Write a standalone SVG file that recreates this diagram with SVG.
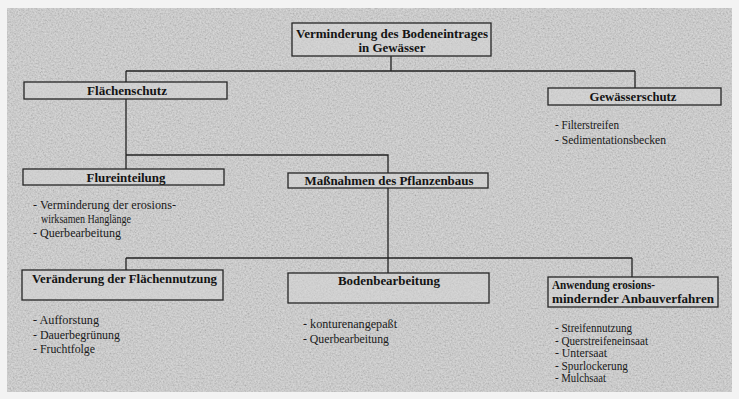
<svg xmlns="http://www.w3.org/2000/svg" width="739" height="399" viewBox="0 0 739 399">
<defs>
<filter id="noise" x="0" y="0" width="100%" height="100%">
<feTurbulence type="fractalNoise" baseFrequency="0.6" numOctaves="3" seed="7" result="n"/>
<feColorMatrix in="n" type="matrix" values="1 0 0 0 0  1 0 0 0 0  1 0 0 0 0  0 0 0 0 0.3"/>
</filter>
<style>
.box{fill:#d6d6d6;fill-opacity:0.5;stroke:#262626;stroke-width:1.3}
.ln{stroke:#222;stroke-width:1.3;fill:none}
.t{font-family:"Liberation Serif","Times New Roman",serif;font-weight:bold;font-size:13.5px;fill:#141414}
.b{font-family:"Liberation Serif","Times New Roman",serif;font-size:12px;fill:#1a1a1a}
.c{text-anchor:middle}
</style>
</defs>
<rect x="0" y="0" width="739" height="399" fill="#f3f3f3"/>
<rect x="7" y="8" width="725" height="384" fill="#d0d0d0"/>
<rect x="7" y="8" width="725" height="384" fill="#000" filter="url(#noise)"/>

<g id="connectors">
<path class="ln" d="M391,56 V71 M126,71 H635 M126,71 V82 M635,71 V88 M126,99 V169 M126,155 H388 V173 M388,188 V258 M126,258 H632 M126,258 V270 M388,258 V273 M632,258 V277"/>
</g>

<g id="root">
<rect class="box" x="292" y="23" width="199" height="33"/>
<text class="t c" x="392" y="38" textLength="192" lengthAdjust="spacingAndGlyphs">Verminderung des Bodeneintrages</text>
<text class="t c" x="392" y="52" textLength="67" lengthAdjust="spacingAndGlyphs">in Gewässer</text>
</g>

<g id="flaechenschutz">
<rect class="box" x="24" y="82" width="203" height="17"/>
<text class="t c" x="127" y="95" textLength="80" lengthAdjust="spacingAndGlyphs">Flächenschutz</text>
</g>

<g id="gewaesserschutz">
<rect class="box" x="548" y="88" width="173" height="17"/>
<text class="t c" x="633" y="101" textLength="87" lengthAdjust="spacingAndGlyphs">Gewässerschutz</text>
<text class="b" x="555" y="129" textLength="64" lengthAdjust="spacingAndGlyphs">- Filterstreifen</text>
<text class="b" x="555" y="144" textLength="111" lengthAdjust="spacingAndGlyphs">- Sedimentationsbecken</text>
</g>

<g id="flureinteilung">
<rect class="box" x="23" y="169" width="201" height="16"/>
<text class="t c" x="126" y="181.5" textLength="79" lengthAdjust="spacingAndGlyphs">Flureinteilung</text>
<text class="b" x="33" y="209" textLength="143" lengthAdjust="spacingAndGlyphs">- Verminderung der erosions-</text>
<text class="b" x="41" y="223" textLength="90" lengthAdjust="spacingAndGlyphs">wirksamen Hanglänge</text>
<text class="b" x="33" y="237" textLength="88" lengthAdjust="spacingAndGlyphs">- Querbearbeitung</text>
</g>

<g id="massnahmen">
<rect class="box" x="288" y="173" width="200" height="15"/>
<text class="t c" x="389" y="185" textLength="169" lengthAdjust="spacingAndGlyphs">Maßnahmen des Pflanzenbaus</text>
</g>

<g id="flaechennutzung">
<rect class="box" x="22" y="270" width="201" height="30"/>
<text class="t" x="32" y="283" textLength="185" lengthAdjust="spacingAndGlyphs">Veränderung der Flächennutzung</text>
<text class="b" x="33" y="324" textLength="66" lengthAdjust="spacingAndGlyphs">- Aufforstung</text>
<text class="b" x="33" y="339" textLength="87" lengthAdjust="spacingAndGlyphs">- Dauerbegrünung</text>
<text class="b" x="33" y="353" textLength="62" lengthAdjust="spacingAndGlyphs">- Fruchtfolge</text>
</g>

<g id="bodenbearbeitung">
<rect class="box" x="288" y="273" width="201" height="30"/>
<text class="t c" x="389" y="285" textLength="102" lengthAdjust="spacingAndGlyphs">Bodenbearbeitung</text>
<text class="b" x="303" y="328" textLength="94" lengthAdjust="spacingAndGlyphs">- konturenangepaßt</text>
<text class="b" x="303" y="343" textLength="86" lengthAdjust="spacingAndGlyphs">- Querbearbeitung</text>
</g>

<g id="anbauverfahren">
<rect class="box" x="548" y="277" width="170" height="30"/>
<text class="t" x="552" y="289" textLength="103" lengthAdjust="spacingAndGlyphs">Anwendung erosions-</text>
<text class="t" x="552" y="303" textLength="162" lengthAdjust="spacingAndGlyphs">mindernder Anbauverfahren</text>
<text class="b" x="555" y="332" textLength="77" lengthAdjust="spacingAndGlyphs">- Streifennutzung</text>
<text class="b" x="555" y="344.5" textLength="93" lengthAdjust="spacingAndGlyphs">- Querstreifeneinsaat</text>
<text class="b" x="555" y="357" textLength="52" lengthAdjust="spacingAndGlyphs">- Untersaat</text>
<text class="b" x="555" y="369.5" textLength="73" lengthAdjust="spacingAndGlyphs">- Spurlockerung</text>
<text class="b" x="555" y="382" textLength="51" lengthAdjust="spacingAndGlyphs">- Mulchsaat</text>
</g>
</svg>
